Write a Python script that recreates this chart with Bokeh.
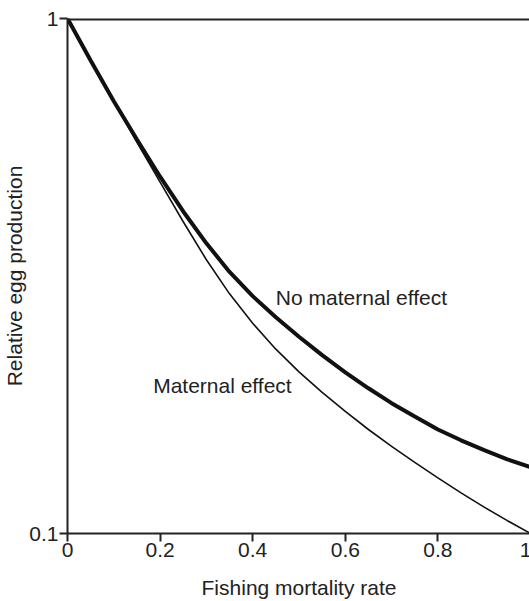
from bokeh.plotting import figure
from bokeh.models import Range1d, FixedTicker, CustomJSTickFormatter, Span
from bokeh.core.properties import value
from bokeh.embed import file_html
from bokeh.resources import INLINE

# ---- data ----
mortality = [0.0, 0.05, 0.10, 0.15, 0.20, 0.25, 0.30, 0.35, 0.40, 0.45, 0.50,
             0.55, 0.60, 0.65, 0.70, 0.75, 0.80, 0.85, 0.90, 0.95, 1.00]
no_maternal = [1.0, 0.829, 0.691, 0.582, 0.493, 0.422, 0.366, 0.322, 0.289, 0.263, 0.241,
               0.222, 0.2056, 0.1914, 0.1791, 0.1687, 0.1592, 0.1517, 0.1452, 0.1393, 0.1346]
maternal = [1.0, 0.829, 0.691, 0.575, 0.481, 0.403, 0.340, 0.292, 0.256, 0.228, 0.206,
            0.188, 0.1726, 0.1592, 0.1476, 0.1374, 0.1282, 0.1199, 0.1125, 0.1059, 0.100]

x_ticks = [0, 0.2, 0.4, 0.6, 0.8, 1]
y_ticks = [0.1, 1]

label_text = ["No maternal effect", "Maternal effect"]
label_x = [0.45, 0.185]
label_y = [0.287, 0.194]

FONT = "Liberation Sans"
FS = "21px"

p = figure(width=531, height=601, output_backend="svg", toolbar_location=None,
           x_range=Range1d(0, 1), y_range=Range1d(0.1, 1), y_axis_type="log",
           min_border_left=60, min_border_right=1, min_border_top=18,
           min_border_bottom=68)
p.outline_line_color = None
p.grid.visible = False
p.background_fill_color = "white"
p.border_fill_color = "white"

# axes
p.xaxis.ticker = FixedTicker(ticks=x_ticks)
p.yaxis.ticker = FixedTicker(ticks=y_ticks)
fmt = "return String(Math.round(tick*10)/10);"
p.xaxis.formatter = CustomJSTickFormatter(code=fmt)
p.yaxis.formatter = CustomJSTickFormatter(code=fmt)
p.xaxis.minor_tick_line_color = None
p.yaxis.minor_tick_line_color = None
for ax in (p.xaxis, p.yaxis):
    ax.axis_line_width = 2
    ax.axis_line_color = "#222222"
    ax.major_tick_line_width = 2
    ax.major_tick_line_color = "#222222"
    ax.major_tick_in = 0
    ax.major_tick_out = 8
    ax.major_label_text_font = FONT
    ax.major_label_text_font_size = FS
    ax.major_label_text_color = "#222222"
    ax.axis_label_text_font = FONT
    ax.axis_label_text_font_size = FS
    ax.axis_label_text_font_style = "normal"
    ax.axis_label_text_color = "#222222"
p.xaxis.major_label_standoff = 1
p.yaxis.major_label_standoff = 1
p.xaxis.axis_label = "Fishing mortality rate"
p.yaxis.axis_label = "Relative egg production"
p.xaxis.axis_label_standoff = 16
p.yaxis.axis_label_standoff = 0

# frame: dark top line, faint right line
p.add_layout(Span(location=1, dimension="width", line_color="#222222", line_width=4))
p.add_layout(Span(location=1, dimension="height", line_color="#bbbbbb", line_width=1.5))

# curves
p.line(mortality, no_maternal, line_color="#111111", line_width=4)
p.line(mortality, maternal, line_color="#111111", line_width=1.6)

# labels
p.text(x=label_x, y=label_y, text=label_text, text_font=value(FONT),
       text_font_size=FS, text_align="left", text_baseline="middle",
       text_color="#222222")

open("out.html", "w").write(file_html(p, INLINE))
